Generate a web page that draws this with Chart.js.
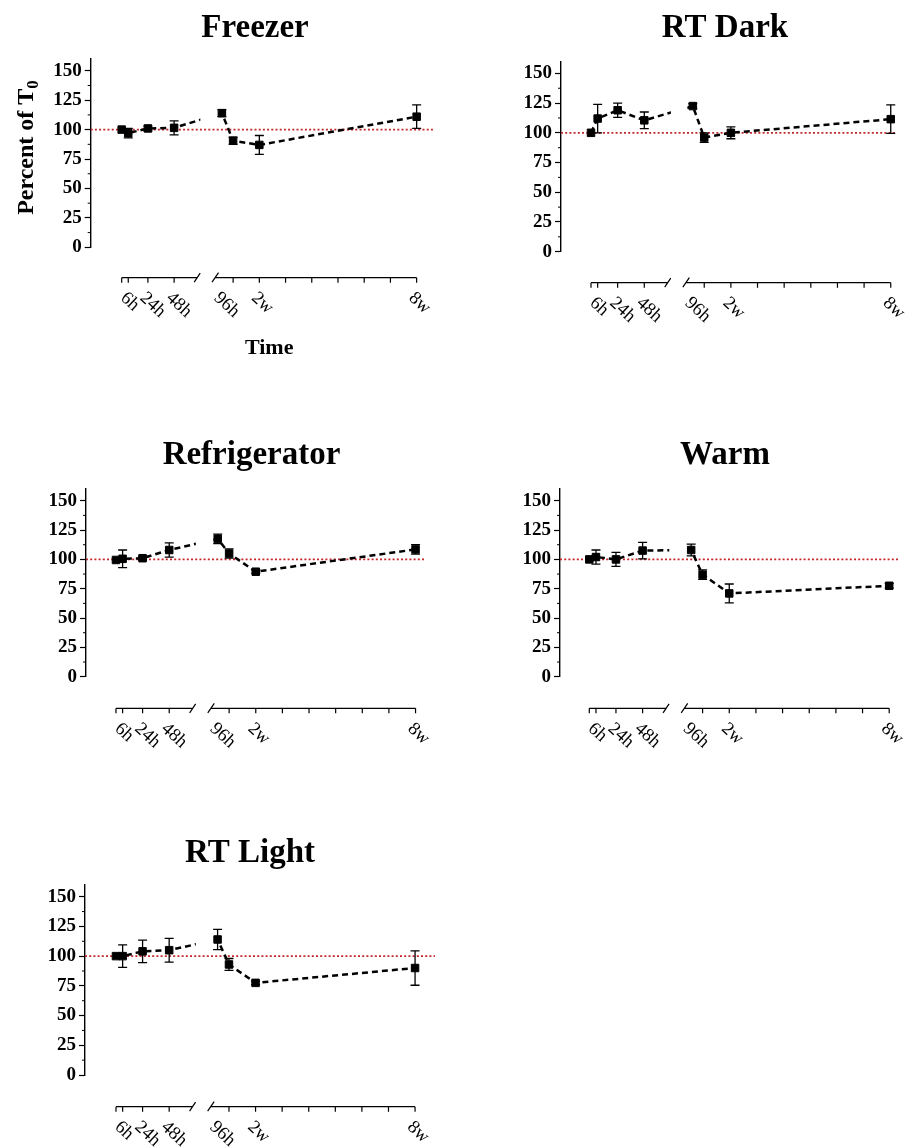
<!DOCTYPE html>
<html><head><meta charset="utf-8">
<script src="https://cdn.jsdelivr.net/npm/chart.js@4.4.1/dist/chart.umd.min.js"></script>
<style>
html,body{margin:0;padding:0;background:#fff;}
#wrap{position:relative;width:913px;height:1147px;overflow:hidden;background:#fff;}
canvas{position:absolute;}
</style></head><body><div id="wrap">
<canvas id="c1"></canvas><canvas id="c2"></canvas><canvas id="c3"></canvas><canvas id="c4"></canvas><canvas id="c5"></canvas>
</div>
<script>
// ---- data ----
const timePoints = ['T0', '6h', '24h', '48h', '96h', '1w', '2w', '8w'];
const timeHours = [0, 6, 24, 48, 96, 168, 336, 1344];
const timeTickLabels = ['', '6h', '24h', '48h', '96h', '', '2w', '8w'];
const axisTickHours = [0, 6, 24, 48, 168, 336, 504, 672, 840, 1008, 1176, 1344];
const yMajorTicks = [0, 25, 50, 75, 100, 125, 150];
const yMinorTicks = [12.5, 37.5, 62.5, 87.5, 112.5, 137.5];
const referenceLevel = 100;

const freezerMean = [100, 97, 101, 101.5, 114, 90.5, 87, 111];
const freezerErr = [0, 4, 2, 6, 3, 3, 8, 10];
const rtDarkMean = [100, 112, 119, 110.5, 122.5, 96, 100, 111.5];
const rtDarkErr = [0, 12, 6, 7, 2, 4, 5, 12];
const refrigMean = [99.5, 100.5, 101, 108, 117.5, 105, 89.5, 108.5];
const refrigErr = [0, 7.5, 1.5, 6, 4, 4, 1.5, 4];
const warmMean = [100, 102, 100, 107.5, 108, 87, 71, 77.5];
const warmErr = [0, 6, 6, 7, 5, 4, 8, 2];
const rtLightMean = [100, 100, 104, 105, 114, 93, 77.5, 90];
const rtLightErr = [0, 9.5, 9.5, 10, 8.5, 5, 1.5, 14.5];

// broken time axis: first segment in days, second in weeks
function axisPos(h) { return h <= 72 ? h / 24 : 3.25 + h / 168; }
const SEG1_END = 2.88, SEG2_START = 3.56;

const SERIF = '"Liberation Serif", "Times New Roman", serif';

const panels = [
  {id:'c1', title:'Freezer', mean:freezerMean, err:freezerErr, cl:0, ct:0, cw:510, ch:375, yw:90.7, rw:75, pt:8.2, tb:11.2, pb:127.7, xmin:-1.182, xmax:11.95, axisOffset:30.4, yTitle:true, xTitle:true},
  {id:'c2', title:'RT Dark', mean:rtDarkMean, err:rtDarkErr, cl:510, ct:0, cw:430, ch:375, yw:51, rw:45, pt:8.2, tb:13.7, pb:123.3, xmin:-1.126, xmax:11.41, axisOffset:31},
  {id:'c3', title:'Refrigerator', mean:refrigMean, err:refrigErr, cl:0, ct:375, cw:503.4, ch:380, yw:86, rw:78.4, pt:60.2, tb:14.2, pb:78.3, xmin:-1.125, xmax:11.59, axisOffset:31.6},
  {id:'c4', title:'Warm', mean:warmMean, err:warmErr, cl:510, ct:375, cw:430, ch:380, yw:50, rw:42, pt:60.2, tb:14.2, pb:78.3, xmin:-1.099, xmax:11.58, axisOffset:31.6},
  {id:'c5', title:'RT Light', mean:rtLightMean, err:rtLightErr, cl:0, ct:755, cw:500, ch:392, yw:85, rw:65, pt:78.2, tb:12, pb:72, xmin:-1.166, xmax:12.0, axisOffset:31.7}
];

const decor = {
  id: 'decor',
  beforeDatasetsDraw(chart, args, o) {
    const {ctx, chartArea: a, scales: {x, y}} = chart;
    ctx.save();
    // reference line at 100 %
    ctx.strokeStyle = '#c3262b'; ctx.lineWidth = 1.6; ctx.setLineDash([2, 2.2]);
    const yr = y.getPixelForValue(referenceLevel);
    ctx.beginPath(); ctx.moveTo(a.left, yr); ctx.lineTo(a.right, yr); ctx.stroke();
    ctx.setLineDash([]);
    // minor y ticks
    ctx.strokeStyle = '#000'; ctx.lineWidth = 1;
    yMinorTicks.forEach(v => {
      const py = y.getPixelForValue(v);
      ctx.beginPath(); ctx.moveTo(a.left - 3, py); ctx.lineTo(a.left, py); ctx.stroke();
    });
    // error bars
    ctx.lineWidth = 1.3;
    timeHours.forEach((h, i) => {
      const e = o.err[i]; if (!e) return;
      const px = x.getPixelForValue(axisPos(h));
      const yt = y.getPixelForValue(o.mean[i] + e), yb = y.getPixelForValue(o.mean[i] - e);
      ctx.beginPath();
      ctx.moveTo(px, yt); ctx.lineTo(px, yb);
      ctx.moveTo(px - 4.5, yt); ctx.lineTo(px + 4.5, yt);
      ctx.moveTo(px - 4.5, yb); ctx.lineTo(px + 4.5, yb);
      ctx.stroke();
    });
    // broken x axis
    const ay = a.bottom + o.axisOffset;
    const s1a = x.getPixelForValue(axisPos(0)), s1b = x.getPixelForValue(SEG1_END);
    const s2a = x.getPixelForValue(SEG2_START), s2b = x.getPixelForValue(axisPos(1344));
    ctx.lineWidth = 1.2;
    ctx.beginPath();
    ctx.moveTo(s1a, ay); ctx.lineTo(s1b, ay);
    ctx.moveTo(s2a, ay); ctx.lineTo(s2b, ay);
    ctx.moveTo(s1b - 3, ay + 4.5); ctx.lineTo(s1b + 3, ay - 4.5);
    ctx.moveTo(s2a - 3, ay + 4.5); ctx.lineTo(s2a + 3.5, ay - 5);
    axisTickHours.forEach(h => {
      const px = x.getPixelForValue(axisPos(h));
      ctx.moveTo(px, ay); ctx.lineTo(px, ay + 5);
    });
    ctx.stroke();
    // rotated tick labels
    ctx.fillStyle = '#000';
    ctx.font = '18.5px ' + SERIF;
    ctx.textAlign = 'left'; ctx.textBaseline = 'top';
    timeHours.forEach((h, i) => {
      const t = timeTickLabels[i]; if (!t) return;
      const px = x.getPixelForValue(axisPos(h));
      ctx.save(); ctx.translate(px + 1, ay + 11); ctx.rotate(Math.PI / 4.2);
      ctx.fillText(t, 0, 0); ctx.restore();
    });
    if (o.xTitle) {
      ctx.font = 'bold 22px ' + SERIF; ctx.textAlign = 'center'; ctx.textBaseline = 'middle';
      ctx.fillText('Time', (s1a + s2b) / 2, ay + 70.6);
    }
    if (o.yTitle) {
      ctx.save();
      ctx.translate(33, 147.5); ctx.rotate(-Math.PI / 2);
      ctx.textAlign = 'left'; ctx.textBaseline = 'alphabetic';
      ctx.font = 'bold 24px ' + SERIF;
      const main = 'Percent of T';
      const wMain = ctx.measureText(main).width;
      ctx.font = 'bold 17px ' + SERIF;
      const wSub = ctx.measureText('0').width;
      const start = -(wMain + wSub) / 2;
      ctx.font = 'bold 24px ' + SERIF;
      ctx.fillText(main, start, 0);
      ctx.font = 'bold 17px ' + SERIF;
      ctx.fillText('0', start + wMain, 5);
      ctx.restore();
    }
    ctx.restore();
  },
  beforeDatasetDraw(chart) {
    const {ctx, scales: {x}} = chart;
    const g1 = x.getPixelForValue(axisPos(72));
    const g2 = x.getPixelForValue(axisPos(96)) - 5.5;
    ctx.save();
    ctx.beginPath();
    ctx.rect(0, 0, g1, chart.height);
    ctx.rect(g2, 0, chart.width - g2, chart.height);
    ctx.clip();
  },
  afterDatasetDraw(chart) { chart.ctx.restore(); }
};

panels.forEach(p => {
  const cv = document.getElementById(p.id);
  cv.width = Math.round(p.cw); cv.height = p.ch;
  cv.style.left = p.cl + 'px'; cv.style.top = p.ct + 'px';
  cv.style.width = Math.round(p.cw) + 'px'; cv.style.height = p.ch + 'px';
  new Chart(cv.getContext('2d'), {
    type: 'line',
    data: {
      datasets: [{
        label: p.title,
        xAxisID: 'x', yAxisID: 'y',
        data: timeHours.map((h, i) => ({x: axisPos(h), y: p.mean[i]})),
        borderColor: '#000', borderWidth: 2.5, borderDash: [6, 4],
        pointStyle: 'rect', pointRadius: 5.3, pointHoverRadius: 5.3,
        pointBackgroundColor: '#000', pointBorderColor: '#000', pointBorderWidth: 1,
        tension: 0, fill: false
      }]
    },
    options: {
      responsive: false, devicePixelRatio: 1, animation: false,
      layout: {padding: {left: 0, right: 0, top: 0, bottom: p.pb}},
      plugins: {
        legend: {display: false}, tooltip: {enabled: false},
        title: {display: true, text: p.title, color: '#000',
                font: {family: SERIF, size: 33, weight: 'bold'},
                padding: {top: p.pt, bottom: p.tb}},
        decor: {mean: p.mean, err: p.err, axisOffset: p.axisOffset, yTitle: !!p.yTitle, xTitle: !!p.xTitle}
      },
      scales: {
        x: {type: 'linear', min: p.xmin, max: p.xmax, display: false},
        y: {
          type: 'linear', position: 'left', min: 0, max: 160,
          afterBuildTicks: s => { s.ticks = yMajorTicks.map(v => ({value: v})); },
          afterFit: s => { s.width = p.yw; },
          grid: {drawOnChartArea: false, drawTicks: true, tickLength: 6, color: '#000', tickWidth: 1.2},
          border: {display: true, color: '#000', width: 1.4},
          ticks: {padding: 3, color: '#000', font: {family: SERIF, size: 19, weight: 'bold'}}
        },
        yRight: {
          type: 'linear', position: 'right', display: true,
          grid: {display: false, drawTicks: false}, border: {display: false},
          ticks: {display: false},
          afterFit: s => { s.width = p.rw; }
        }
      }
    },
    plugins: [decor]
  });
});
</script>
</body></html>
